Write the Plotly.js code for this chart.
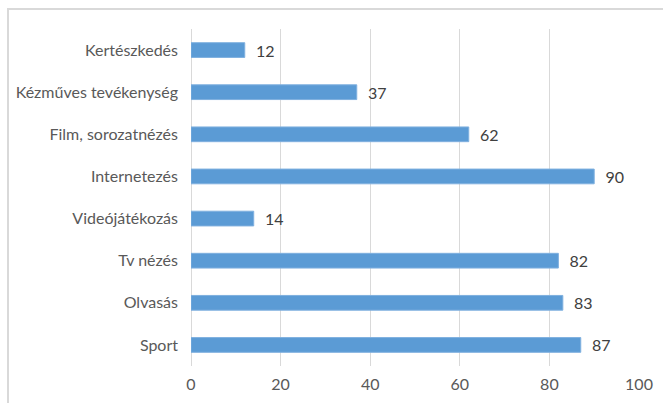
<!DOCTYPE html>
<html>
<head>
<meta charset="utf-8">
<script src="https://cdn.plot.ly/plotly-3.0.1.min.js"></script>
<style>
  html, body { margin: 0; padding: 0; background: #fff; }
  #wrap { position: relative; width: 663px; height: 403px; overflow: hidden; }
  #chart { position: absolute; left: 0; top: 0; width: 663px; height: 403px; }
  #frame { position: absolute; left: 7px; top: 8px; width: 700px; height: 450px;
           border-top: 2px solid #d9d9d9; border-left: 2px solid #d9d9d9; pointer-events: none; }
</style>
</head>
<body>
<div id="wrap">
  <div id="chart"></div>
  <div id="frame"></div>
</div>
<script>
const categories = ["Kertészkedés", "Kézműves tevékenység", "Film, sorozatnézés", "Internetezés",
                    "Videójátékozás", "Tv nézés", "Olvasás", "Sport"];
const values = [12, 37, 62, 90, 14, 82, 83, 87];
const xTicks = [0, 20, 40, 60, 80, 100];

const font = "Lato, 'Open Sans', sans-serif";

Plotly.newPlot('chart', [{
  type: 'bar',
  orientation: 'h',
  x: values,
  y: categories,
  marker: { color: '#5b9bd5', line: { color: '#7fb0df', width: 1 } },
  text: values.map(v => '\u00a0\u00a0' + v),
  textposition: 'outside',
  constraintext: 'none',
  cliponaxis: false,
  textfont: { family: font, size: 16, color: '#404040' },
  hoverinfo: 'none'
}], {
  width: 663, height: 403,
  margin: { l: 191, r: 24, t: 29, b: 37 },
  paper_bgcolor: '#fff', plot_bgcolor: '#fff',
  bargap: 0.65,
  showlegend: false,
  font: { family: font, size: 16, color: '#595959' },
  xaxis: {
    range: [0, 100], tickvals: xTicks, ticktext: xTicks.map(String),
    showgrid: true, gridcolor: '#d9d9d9', gridwidth: 1,
    zeroline: true, zerolinecolor: '#d9d9d9', zerolinewidth: 1,
    showline: false, ticks: '', ticklabelstandoff: 7,
    tickfont: { family: font, size: 16, color: '#595959' },
    fixedrange: true
  },
  yaxis: {
    autorange: 'reversed', type: 'category',
    showgrid: false, zeroline: false, showline: false, ticks: '',
    ticklabelstandoff: 12,
    tickfont: { family: font, size: 16, color: '#595959' },
    fixedrange: true
  }
}, { displayModeBar: false, staticPlot: true });
</script>
</body>
</html>
